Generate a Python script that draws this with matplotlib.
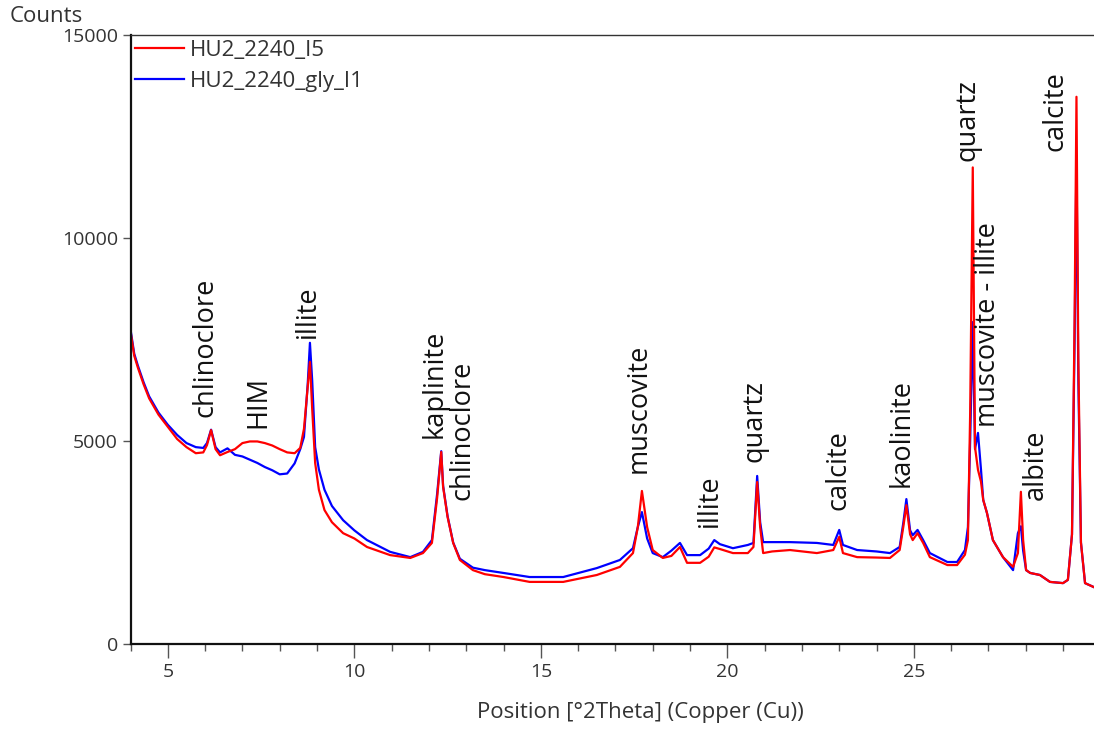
import matplotlib
matplotlib.use("Agg")
import matplotlib.pyplot as plt
from matplotlib.ticker import MultipleLocator

# ---- data (2Theta positions and counts) ----
two_theta = [4.0, 4.1, 4.2, 4.35, 4.5, 4.75, 5.0, 5.25, 5.5, 5.75, 5.95, 6.05, 6.16, 6.28, 6.4,
             6.6, 6.8, 7.0, 7.2, 7.4, 7.6, 7.8, 8.0, 8.2, 8.4, 8.55, 8.65, 8.75, 8.81, 8.87,
             8.95, 9.05, 9.2, 9.4, 9.7, 10.0, 10.34, 10.96, 11.5, 11.84, 12.08, 12.22, 12.33, 12.38, 12.5,
             12.65, 12.83, 13.18, 13.5, 14.0, 14.7, 15.6, 16.5, 17.12, 17.47, 17.6, 17.71, 17.85, 18.0,
             18.27, 18.5, 18.73, 18.92, 19.27, 19.5, 19.65, 19.8, 20.15, 20.55, 20.7, 20.8, 20.88,
             20.96, 21.2, 21.68, 22.4, 22.84, 23.0, 23.1, 23.48, 24.0, 24.36, 24.62, 24.72, 24.8,
             24.9, 24.97, 25.1, 25.25, 25.43, 25.9, 26.16, 26.37, 26.45, 26.51, 26.58, 26.64, 26.72,
             26.8, 26.86, 26.96, 27.12, 27.39, 27.66, 27.79, 27.87, 27.93, 28.01, 28.12, 28.38,
             28.65, 29.0, 29.13, 29.24, 29.31, 29.36, 29.41, 29.48, 29.59, 29.83]

counts_I5 = [7700, 7100, 6800, 6400, 6050, 5650, 5350, 5050, 4850, 4700, 4720, 4900, 5270, 4800, 4650,
             4730, 4800, 4950, 4990, 4990, 4950, 4890, 4800, 4720, 4700, 4830, 5300, 6330, 6950, 5800,
             4460, 3800, 3300, 3000, 2730, 2600, 2390, 2190, 2120, 2240, 2490, 3600, 4730, 3870, 3130,
             2490, 2070, 1820, 1720, 1650, 1530, 1530, 1700, 1900, 2240, 2880, 3770, 2880, 2315,
             2120, 2170, 2390, 2000, 2000, 2150, 2380, 2340, 2240, 2240, 2390, 3990, 2880,
             2240, 2280, 2315, 2240, 2315, 2640, 2240, 2140, 2130, 2120, 2315, 2900, 3420,
             2700, 2560, 2730, 2490, 2140, 1945, 1945, 2200, 2560, 5690, 11740, 4850, 4290,
             4000, 3550, 3230, 2560, 2140, 1900, 2240, 3750, 2560, 1820, 1750, 1700,
             1530, 1500, 1580, 2700, 8000, 13480, 7000, 2500, 1500, 1400]

counts_gly_I1 = [7750, 7150, 6850, 6450, 6100, 5700, 5400, 5150, 4950, 4850, 4830, 4950, 5280, 4850, 4720,
                 4820, 4660, 4620, 4540, 4460, 4360, 4280, 4180, 4200, 4450, 4800, 5100, 6400, 7420, 6500,
                 4850, 4300, 3800, 3400, 3050, 2800, 2560, 2270, 2140, 2270, 2560, 3700, 4750, 3900, 3150,
                 2500, 2100, 1880, 1820, 1750, 1650, 1650, 1870, 2070, 2360, 2880, 3250, 2600, 2240,
                 2140, 2300, 2490, 2190, 2190, 2350, 2560, 2460, 2360, 2440, 2490, 4140, 3000,
                 2510, 2510, 2510, 2490, 2440, 2810, 2440, 2315, 2280, 2240, 2390, 3000, 3570,
                 2800, 2680, 2810, 2560, 2240, 2020, 2020, 2315, 2880, 5000, 7930, 4800, 5200,
                 4300, 3550, 3230, 2560, 2140, 1820, 2730, 2900, 2300, 1820, 1750, 1700,
                 1530, 1500, 1580, 2700, 7500, 12040, 6500, 2500, 1500, 1400]

series_labels = ["HU2_2240_I5", "HU2_2240_gly_I1"]

peak_labels = ["chlinoclore", "HIM", "illite", "kaplinite", "chlinoclore", "muscovite",
               "illite", "quartz", "calcite", "kaolinite", "quartz", "muscovite - illite",
               "albite", "calcite"]
peak_label_x = [6.02, 7.44, 8.76, 12.14, 12.90, 17.63, 19.54, 20.74, 22.97, 24.68, 26.43, 26.99,
                28.28, 28.79]
peak_label_y = [5590, 5320, 7540, 5070, 3550, 4210, 2880, 4480, 3300, 3870, 11900, 5340,
                3550, 12150]

# ---- figure ----
FONT = ["Open Sans", "DejaVu Sans"]
plt.rcParams["font.family"] = FONT

fig = plt.figure(figsize=(10.94, 7.31), dpi=100)
ax = fig.add_axes([0.1193, 0.119, 0.8807, 0.833])

l_blue, = ax.plot(two_theta, counts_gly_I1, color="#0000ff", lw=1.6, label=series_labels[1])
l_red, = ax.plot(two_theta, counts_I5, color="#ff0000", lw=1.6, label=series_labels[0])

ax.set_xlim(4.0, 29.83)
ax.set_ylim(0, 15000)

ax.xaxis.set_major_locator(MultipleLocator(5))
ax.xaxis.set_minor_locator(MultipleLocator(1))
ax.set_yticks([0, 5000, 10000, 15000])

ax.tick_params(axis="both", which="major", labelsize=14, labelcolor="#333333", color="#555555",
               direction="out")
ax.tick_params(axis="x", which="major", length=10, width=1)
ax.tick_params(axis="x", which="minor", length=5, width=1, color="#555555")
ax.tick_params(axis="y", which="major", length=6, width=1, pad=3)

for side in ["left", "bottom"]:
    ax.spines[side].set_linewidth(1.6)
    ax.spines[side].set_color("#111111")
ax.spines["top"].set_linewidth(1.0)
ax.spines["top"].set_color("#333333")
ax.spines["right"].set_visible(False)

ax.set_xlabel("Position [°2Theta] (Copper (Cu))", fontsize=16, color="#333333")
ax.xaxis.set_label_coords(0.529, -0.096)
fig.text(10 / 1094, 1 - 17 / 731, "Counts", fontsize=16, color="#333333", va="center", ha="left")

for lab, x, y in zip(peak_labels, peak_label_x, peak_label_y):
    ax.text(x, y, lab, rotation=90, ha="center", va="bottom", fontsize=19.5, color="#111111")

ax.legend(handles=[l_red, l_blue], loc="upper left", bbox_to_anchor=(0.0, 1.0), frameon=False,
          fontsize=16, handlelength=2.2, handletextpad=0.25, labelspacing=0.45, borderaxespad=0.0,
          borderpad=0.2, labelcolor="#333333")

fig.savefig("out.png", dpi=100)
